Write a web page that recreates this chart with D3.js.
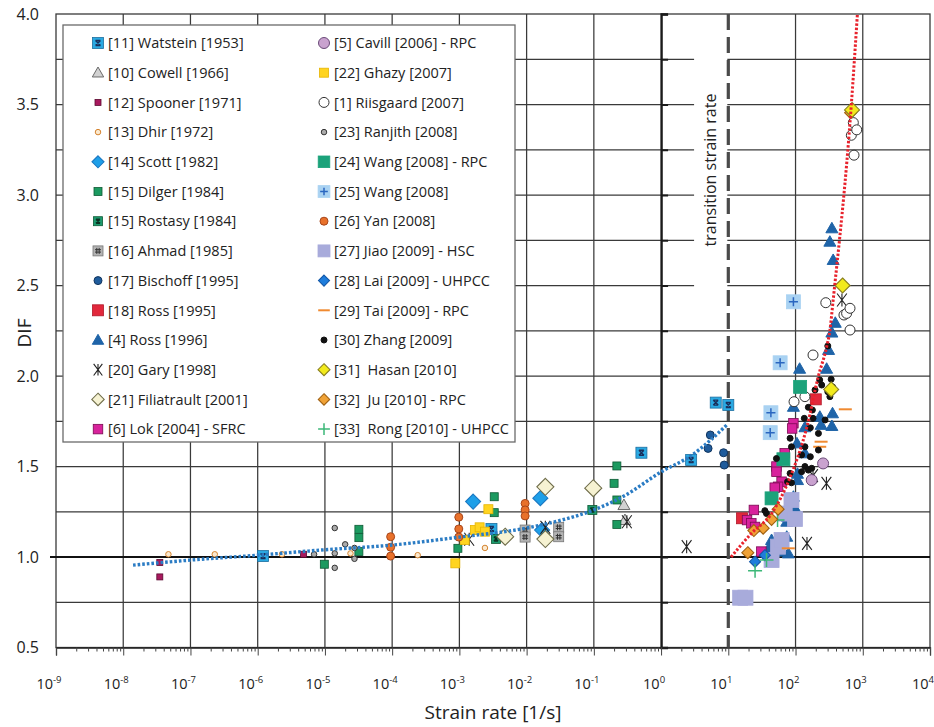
<!DOCTYPE html>
<html>
<head>
<meta charset="utf-8">
<script src="https://cdn.jsdelivr.net/npm/d3@7"></script>
<style>
  body { margin: 0; background: #fff; }
  svg text { font-family: "Open Sans", "Noto Sans", sans-serif; fill: #222; }
</style>
</head>
<body>
<svg id="chart" width="934" height="727"></svg>
<script>
// ---- data: [strain rate 1/s, DIF] ----
const watstein   = [[1.2e-6,1.005],[3.0e-3,1.155],[0.51,1.576],[2.8,1.536],[6.5,1.853],[10,1.84]];
const cowell     = [[0.28,1.287],[0.29,1.204]];
const spooner    = [[3.5e-8,0.97],[3.5e-8,0.89],[4.8e-6,1.015]];
const dhir       = [[4.7e-8,1.015],[2.3e-7,1.015],[2.3e-6,1.015],[2.4e-5,1.02],[2.4e-4,1.01],[2.4e-3,1.05]];
const scott      = [[1.6e-3,1.306],[1.6e-2,1.325],[1.7e-2,1.149]];
const dilger     = [[9.8e-6,0.96],[3.2e-5,1.153],[3.2e-5,1.107],[3.2e-5,1.03],[9.5e-4,1.048],[3.3e-3,1.333],[3.3e-3,1.245],[0.22,1.503],[0.20,1.407],[0.22,1.315],[0.22,1.18]];
const rostasy    = [[3.5e-3,1.10],[9.5e-2,1.26]];
const ahmad      = [[9.5e-3,1.149],[9.5e-3,1.11],[3.0e-2,1.164],[3.0e-2,1.112]];
const bischoff   = [[5.0,1.60],[5.4,1.674],[8.5,1.576],[8.7,1.508]];
const ross1995   = [[16,1.214],[200,1.871]];
const ross1996   = [[390,2.294],[310,2.144],[290,2.04],[115,2.04],[93,1.83],[355,1.794],[230,1.775],[240,1.73],[347,1.724],[138,1.717],[105,1.628],[138,1.573],[107,1.46],[107,1.425],[93,1.333],[98,1.27],[76,1.222],[74,1.195],[74,1.112],[55,1.10],[44,1.094],[40,1.048],[52,1.048],[78,1.02],[40,1.011],[47,1.07],[62,1.03],[347,2.816],[324,2.742],[363,2.641],[347,2.24]];
const gary       = [[1.4e-3,1.098],[1.9e-2,1.164],[0.31,1.195],[2.4,1.057],[148,1.075],[182,1.45],[288,1.407],[490,2.42]];
const filiatrault= [[4.8e-3,1.112],[1.9e-2,1.388],[1.9e-2,1.099],[9.8e-2,1.38]];
const lok        = [[93,1.739],[89,1.71],[69,1.573],[52,1.5],[52,1.471],[62,1.416],[55,1.388],[49,1.383],[24,1.26],[19,1.204],[22,1.186],[25,1.166],[31,1.03]];
const cavill     = [[257,1.517],[174,1.425]];
const ghazy      = [[2.7e-3,1.264],[1.7e-3,1.149],[2.0e-3,1.164],[2.4e-3,1.14],[1.2e-3,1.094],[8.7e-4,0.965]];
const riisgaard  = [[95,1.858],[138,1.886],[182,2.116],[282,2.405],[525,2.337],[575,2.346],[646,2.374],[646,2.254],[676,3.33],[724,3.40],[741,3.22],[813,3.36]];
const ranjith    = [[1.4e-5,1.16],[2.0e-5,1.07],[6.9e-6,1.015],[1.4e-5,1.02],[1.4e-5,0.94],[2.75e-5,1.05],[2.75e-5,0.99]];
const wangRPC    = [[117,1.94],[66,1.54],[44,1.324]];
const wang       = [[93,2.41],[59,2.073],[43,1.797],[42,1.687]];
const yan        = [[9.5e-5,1.112],[9.5e-5,1.054],[9.5e-5,1.005],[9.8e-4,1.22],[9.8e-4,1.155],[9.8e-4,1.11],[9.5e-3,1.296],[9.5e-3,1.26],[9.5e-3,1.227]];
const jiao       = [[15,0.775],[18,0.775],[44,0.983],[55,1.057],[62,1.094],[69,1.24],[87,1.315],[98,1.21]];
const lai        = [[25,0.974],[35,1.01]];
const tai        = [[550,1.816],[240,1.637],[229,1.609],[78,1.048]];
const zhang      = [[302,2.166],[339,1.982],[229,1.978],[245,1.95],[302,1.913],[324,1.886],[355,1.94],[195,1.923],[155,1.827],[178,1.812],[135,1.766],[182,1.766],[166,1.714],[275,1.757],[219,1.683],[83,1.656],[87,1.609],[138,1.609],[219,1.591],[123,1.564],[166,1.554],[138,1.50],[123,1.471],[155,1.48],[174,1.49],[83,1.462],[76,1.416],[87,1.41],[35,1.256],[37,1.24],[52,1.544]];
const hasan      = [[692,3.47],[501,2.50],[339,1.926]];
const ju         = [[55,1.264],[44,1.208],[33,1.159],[24,1.146],[19.5,1.024],[660,3.455]];
const rong       = [[25,0.924],[37,0.983],[54,1.204]];

// fitted trend lines (dotted)
const blueFit = [[1.4e-8,0.955],[1e-7,0.983],[1e-6,1.01],[1e-5,1.04],[1e-4,1.066],[1e-3,1.11],[1e-2,1.16],[3e-2,1.2],[1e-1,1.26],[0.29,1.34],[1,1.47],[2.8,1.56],[5.6,1.65],[9.5,1.73]];
const redFit  = [[11,1.0],[22,1.13],[44,1.24],[83,1.44],[148,1.72],[219,2.0],[290,2.16],[324,2.25],[363,2.42],[676,3.5],[832,4.0]];

const transitionRate = 10;
const xTickExps = [-9,-8,-7,-6,-5,-4,-3,-2,-1,0,1,2,3,4];
const yTickLabels = [0.5,1.0,1.5,2.0,2.5,3.0,3.5,4.0];

// legend order: left column then right column; Ju is drawn first so Hasan sits on top
const series = [
  {name:"[11] Watstein [1953]",       data:watstein,   shape:"squareX",   size:11, fill:"#2aa9e2", stroke:"#1d6fa0", mark:"#1a2e5a"},
  {name:"[10] Cowell [1966]",         data:cowell,     shape:"triangle",  size:12, fill:"#d2d2d2", stroke:"#6a6a6a"},
  {name:"[12] Spooner [1971]",        data:spooner,    shape:"square",    size:6,  fill:"#a8195e", stroke:"#5a0a30"},
  {name:"[13] Dhir [1972]",           data:dhir,       shape:"circle",    size:5.5,fill:"#fbe9cf", stroke:"#d4832e"},
  {name:"[14] Scott [1982]",          data:scott,      shape:"diamond",   size:15, fill:"#1e9fe8", stroke:"#1b78c2"},
  {name:"[15] Dilger [1984]",         data:dilger,     shape:"square",    size:8,  fill:"#1c9a60", stroke:"#0d5a34"},
  {name:"[15] Rostasy [1984]",        data:rostasy,    shape:"squareX",   size:9,  fill:"#1c9a6e", stroke:"#0d5a34", mark:"#0b3322"},
  {name:"[16] Ahmad [1985]",          data:ahmad,      shape:"squareHash",size:10, fill:"#b4b4b4", stroke:"#777", mark:"#333"},
  {name:"[17] Bischoff [1995]",       data:bischoff,   shape:"circle",    size:8,  fill:"#1f5c9c", stroke:"#12355e"},
  {name:"[18] Ross [1995]",           data:ross1995,   shape:"square",    size:11, fill:"#e2283c", stroke:"#b01828"},
  {name:"[4] Ross [1996]",            data:ross1996,   shape:"triangle",  size:12, fill:"#1f64a8", stroke:"#1f64a8"},
  {name:"[20] Gary [1998]",           data:gary,       shape:"star",      size:13, fill:"none",    stroke:"#222"},
  {name:"[21] Filiatrault [2001]",    data:filiatrault,shape:"diamond",   size:17, fill:"#f6f2d2", stroke:"#6f6d4a"},
  {name:"[6] Lok [2004] - SFRC",      data:lok,        shape:"square",    size:9.5,fill:"#d8229c", stroke:"#7a0a52"},
  {name:"[5] Cavill [2006] - RPC",    data:cavill,     shape:"circle",    size:11, fill:"#c9a2cf", stroke:"#6a4a78"},
  {name:"[22] Ghazy [2007]",          data:ghazy,      shape:"square",    size:9,  fill:"#ffd420", stroke:"#e6b400"},
  {name:"[1] Riisgaard [2007]",       data:riisgaard,  shape:"circle",    size:10, fill:"#fff",    stroke:"#333"},
  {name:"[23] Ranjith [2008]",        data:ranjith,    shape:"circle",    size:5.5,fill:"#aaa",    stroke:"#333"},
  {name:"[24] Wang [2008] - RPC",     data:wangRPC,    shape:"square",    size:13, fill:"#1ba27a", stroke:"#1ba27a"},
  {name:"[25] Wang [2008]",           data:wang,       shape:"squarePlus",size:14, fill:"#a9d2f2", stroke:"#a9d2f2", mark:"#2a66c0"},
  {name:"[26] Yan [2008]",            data:yan,        shape:"circle",    size:8,  fill:"#e8712b", stroke:"#a8461a"},
  {name:"[27] Jiao [2009] - HSC",     data:jiao,       shape:"square",    size:15, fill:"#a8abdb", stroke:"#a8abdb"},
  {name:"[28] Lai [2009] - UHPCC",    data:lai,        shape:"diamond",   size:11, fill:"#1e7ddc", stroke:"#1458a8"},
  {name:"[29] Tai [2009] - RPC",      data:tai,        shape:"dash",      size:13, fill:"none",    stroke:"#f08a30"},
  {name:"[30] Zhang [2009]",          data:zhang,      shape:"circle",    size:6,  fill:"#111",    stroke:"#111"},
  {name:"[31]  Hasan [2010]",         data:hasan,      shape:"diamond",   size:15, fill:"#f2ea1c", stroke:"#8a8020", z:2},
  {name:"[32]  Ju [2010] - RPC",      data:ju,         shape:"diamond",   size:12, fill:"#f0a236", stroke:"#a06010", z:1},
  {name:"[33]  Rong [2010] - UHPCC",  data:rong,       shape:"plus",      size:14, fill:"none",    stroke:"#3cb878"}
];

const svg = d3.select("#chart");
const plotL = 56, plotR = 930, plotT = 14, plotB = 647.5;
const gridColor = "#3a3a3a";

const x = d3.scaleLog().domain([1e-9, 1e4]).range([plotL, plotR]);
const y = d3.scaleLinear().domain([0.5, 4]).range([plotB, plotT]);

// grid
const grid = svg.append("g");
const decades = xTickExps.map(e => Math.pow(10, e));
grid.selectAll(".vg")
    .data(decades.filter(d => d > 1e-9 && d < 1e4 && d !== 1 && d !== transitionRate))
    .enter().append("line")
    .attr("x1", d => x(d)).attr("x2", d => x(d))
    .attr("y1", plotT).attr("y2", plotB)
    .attr("stroke", gridColor).attr("stroke-width", 1.25);
grid.selectAll(".hg")
    .data(d3.range(0.75, 4, 0.25).filter(v => Math.abs(v - 1) > 1e-6))
    .enter().append("line")
    .attr("x1", plotL).attr("x2", plotR)
    .attr("y1", d => y(d)).attr("y2", d => y(d))
    .attr("stroke", gridColor).attr("stroke-width", 1.25);
// frame
grid.append("rect")
    .attr("x", plotL).attr("y", plotT)
    .attr("width", plotR - plotL).attr("height", plotB - plotT)
    .attr("fill", "none").attr("stroke", gridColor).attr("stroke-width", 1.3);
// DIF = 1 line
grid.append("line")
    .attr("x1", plotL - 6).attr("x2", plotR)
    .attr("y1", y(1)).attr("y2", y(1))
    .attr("stroke", "#111").attr("stroke-width", 2);

// thick line at 10^0 with inward ticks
const midAxis = svg.append("g")
    .attr("transform", `translate(${x(1)},0)`)
    .call(d3.axisRight(y).tickValues(d3.range(0.5, 4.01, 0.25)).tickSize(7).tickFormat(""));
midAxis.select(".domain").attr("stroke", "#1a1a1a").attr("stroke-width", 2.4);
midAxis.selectAll(".tick line").attr("stroke", "#1a1a1a").attr("stroke-width", 2);

// x axis
const xMinor = [];
xTickExps.slice(0, -1).forEach(e => { for (let k = 2; k <= 9; k++) xMinor.push(k * Math.pow(10, e)); });
const xAxisG = svg.append("g").attr("transform", `translate(0,${plotB})`);
xAxisG.append("g").call(d3.axisBottom(x).tickValues(decades).tickSize(8).tickFormat(""))
    .call(g => g.select(".domain").attr("stroke", "#222").attr("stroke-width", 1.3));
xAxisG.append("g").call(d3.axisBottom(x).tickValues(xMinor).tickSize(4).tickFormat(""))
    .call(g => g.select(".domain").remove());
xAxisG.selectAll(".tick line").attr("stroke", "#444");

const xl = svg.append("g").selectAll("text")
    .data(xTickExps).enter().append("text")
    .attr("x", d => x(Math.pow(10, d)) - 7)
    .attr("y", 689)
    .attr("text-anchor", "middle")
    .style("font-size", "14.5px");
xl.append("tspan").text("10");
xl.append("tspan").attr("dy", -6).style("font-size", "9.5px").text(d => String(d));

// y labels
svg.append("g").selectAll("text")
    .data(yTickLabels).enter().append("text")
    .attr("x", 39).attr("y", d => y(d))
    .attr("dy", "0.36em")
    .attr("text-anchor", "end")
    .style("font-size", "16px")
    .text(d => d.toFixed(1));

svg.append("text")
    .attr("transform", "translate(31,333) rotate(-90)")
    .attr("text-anchor", "middle")
    .style("font-size", "19px")
    .text("DIF");

svg.append("text")
    .attr("x", 493).attr("y", 719)
    .attr("text-anchor", "middle")
    .style("font-size", "19px")
    .text("Strain rate [1/s]");

// transition strain rate marker
svg.append("rect")
    .attr("x", x(1) + 33).attr("y", plotT + 12)
    .attr("width", x(transitionRate) - x(1) - 34).attr("height", y(2.4) - plotT - 12)
    .attr("fill", "#fff");
svg.append("line")
    .attr("x1", x(transitionRate)).attr("x2", x(transitionRate))
    .attr("y1", plotT).attr("y2", plotB)
    .attr("stroke", "#4a4a4a").attr("stroke-width", 3.2)
    .attr("stroke-dasharray", "16,7");
svg.append("text")
    .attr("transform", `translate(${x(transitionRate) - 12},170) rotate(-90)`)
    .attr("text-anchor", "middle")
    .style("font-size", "16px")
    .text("transition strain rate");

// marker drawing
function drawMarker(g, s, scale) {
    const w = s.size * scale, h = w / 2;
    const sq = () => g.append("rect").attr("x", -h).attr("y", -h).attr("width", w).attr("height", w)
        .attr("fill", s.fill).attr("stroke", s.stroke).attr("stroke-width", 0.8);
    switch (s.shape) {
        case "square": sq(); break;
        case "circle":
            g.append("circle").attr("r", h).attr("fill", s.fill).attr("stroke", s.stroke).attr("stroke-width", 1);
            break;
        case "diamond":
            g.append("path").attr("d", `M0,${-h}L${h},0L0,${h}L${-h},0Z`)
                .attr("fill", s.fill).attr("stroke", s.stroke).attr("stroke-width", 1.1);
            break;
        case "triangle":
            g.append("path").attr("d", `M0,${-h}L${h},${h * 0.75}L${-h},${h * 0.75}Z`)
                .attr("fill", s.fill).attr("stroke", s.stroke).attr("stroke-width", 1);
            break;
        case "squareX": {
            sq();
            const k = h * 0.45;
            g.append("path").attr("d", `M${-k},${-k}L${k},${k}M${k},${-k}L${-k},${k}M${-k},${-k}L${k},${-k}M${-k},${k}L${k},${k}`)
                .attr("stroke", s.mark).attr("stroke-width", 1.4).attr("fill", "none");
            break;
        }
        case "squarePlus": {
            sq();
            const k = h * 0.65;
            g.append("path").attr("d", `M${-k},0L${k},0M0,${-k}L0,${k}`)
                .attr("stroke", s.mark).attr("stroke-width", 1.5).attr("fill", "none");
            break;
        }
        case "squareHash": {
            sq();
            const k = h * 0.6;
            g.append("path").attr("d", `M${-k},${-k * 0.4}L${k},${-k * 0.4}M${-k},${k * 0.4}L${k},${k * 0.4}M${-k * 0.4},${-k}L${-k * 0.4},${k}M${k * 0.4},${-k}L${k * 0.4},${k}`)
                .attr("stroke", s.mark).attr("stroke-width", 1).attr("fill", "none");
            break;
        }
        case "star": {
            const k = h * 0.75;
            g.append("path").attr("d", `M${-k},${-h}L${k},${h}M${k},${-h}L${-k},${h}M0,${-h}L0,${h}`)
                .attr("stroke", s.stroke).attr("stroke-width", 1.1).attr("fill", "none");
            break;
        }
        case "plus":
            g.append("path").attr("d", `M${-h},0L${h},0M0,${-h}L0,${h}`)
                .attr("stroke", s.stroke).attr("stroke-width", 1.5).attr("fill", "none");
            break;
        case "dash":
            g.append("path").attr("d", `M${-h},0L${h},0`)
                .attr("stroke", s.stroke).attr("stroke-width", 2).attr("fill", "none");
            break;
    }
}

// legend
const legend = svg.append("g");
legend.append("rect")
    .attr("x", 63).attr("y", 25).attr("width", 452).attr("height", 417)
    .attr("fill", "#fff").attr("stroke", "#6a6a6a").attr("stroke-width", 1.3);
series.forEach((s, i) => {
    const col = i < 14 ? 0 : 1, row = i % 14;
    const ly = 43 + row * 29.7;
    const mx = col === 0 ? 98 : 324;
    drawMarker(legend.append("g").attr("transform", `translate(${mx},${ly})`), s, Math.min(1, 9 / s.size + 0.2));
    legend.append("text")
        .attr("x", mx + 10).attr("y", ly)
        .attr("dy", "0.36em")
        .style("font-size", "14.5px")
        .style("white-space", "pre")
        .text(s.name);
});

// data points (series with z drawn last, in z order)
const pts = svg.append("g");
const drawOrder = series.slice().sort((a, b) => (a.z || 0) - (b.z || 0));
drawOrder.forEach(s => {
    s.data.forEach(d => {
        drawMarker(pts.append("g").attr("transform", `translate(${x(d[0])},${y(d[1])})`), s, 1);
    });
});

// dotted trend lines
const line = d3.line().x(d => x(d[0])).y(d => y(d[1])).curve(d3.curveMonotoneX);
svg.append("path").attr("d", line(blueFit))
    .attr("fill", "none").attr("stroke", "#2b7cc4").attr("stroke-width", 3.4)
    .attr("stroke-dasharray", "2.6,2");
svg.append("path").attr("d", line(redFit))
    .attr("fill", "none").attr("stroke", "#e8222c").attr("stroke-width", 3)
    .attr("stroke-dasharray", "2.4,1.8");
</script>
</body>
</html>
